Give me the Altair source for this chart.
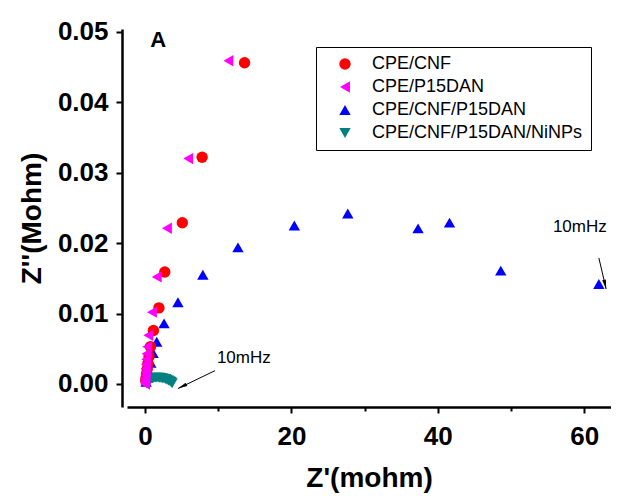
import altair as alt
import pandas as pd

# ---------------- data ----------------
series_names = ["CPE/CNF", "CPE/P15DAN", "CPE/CNF/P15DAN", "CPE/CNF/P15DAN/NiNPs"]
series_colors = ["#FF0000", "#FF00FF", "#0000FF", "#008080"]
series_shapes = ["circle", "triangle-left", "triangle-up", "triangle-down"]
draw_order = [1, 3, 0, 2]

cnf_x = [13.6, 7.8, 5.1, 2.7, 1.9, 1.15, 0.75, 0.55, 0.4, 0.3, 0.2, 0.15, 0.1]
cnf_y = [0.0456, 0.0322, 0.0229, 0.0159, 0.0108, 0.0076, 0.0053, 0.0039, 0.0029, 0.0021, 0.0014, 0.0009, 0.0005]

p15_x = [11.4, 5.9, 3.0, 1.6, 0.95, 0.45, 0.3, 0.22, 0.16, 0.12, 0.09, 0.07, 0.05, 0.04, 0.03, 0.02, 0.02, 0.01]
p15_y = [0.0459, 0.0320, 0.0221, 0.0152, 0.0102, 0.0069, 0.0053, 0.0043, 0.0035, 0.0028, 0.0022, 0.0017, 0.0013, 0.0009, 0.0006, 0.0004, 0.0002, 0.0000]

cnfp_x = [62.0, 48.6, 41.6, 37.3, 27.7, 20.4, 12.7, 7.9, 4.5, 2.6, 1.6, 1.1, 0.8, 0.5, 0.3, 0.15]
cnfp_y = [0.0142, 0.0161, 0.0229, 0.0221, 0.0242, 0.0225, 0.0194, 0.0155, 0.0116, 0.0086, 0.0060, 0.0044, 0.0030, 0.0018, 0.0009, 0.0003]

ni_x = [0.2, 0.35, 0.5, 0.65, 0.8, 1.0, 1.2, 1.4, 1.6, 1.8, 2.0, 2.2, 2.4, 2.6, 2.8, 3.0, 3.2, 3.4, 3.55, 3.7]
ni_y = [0.0001, 0.0003, 0.0005, 0.0006, 0.0007, 0.0008, 0.00085, 0.0009, 0.0009, 0.0009, 0.00088, 0.00085, 0.0008, 0.00075, 0.0007, 0.0006, 0.0005, 0.0004, 0.0003, 0.0001]

x_ticks = [0, 10, 20, 30, 40, 50, 60]
y_ticks = [0.0, 0.005, 0.01, 0.015, 0.02, 0.025, 0.03, 0.035, 0.04, 0.045, 0.05]

# annotations (data units)
panel_label = ["A"]
panel_x = [1.8]
panel_y = [0.0488]

note_text = ["10mHz", "10mHz"]
note_x = [59.4, 13.5]
note_y = [0.0223, 0.00366]

arrow_x = [62.0, 9.56]
arrow_y = [0.0179, 0.00189]
arrow_x2 = [63.0, 4.5]
arrow_y2 = [0.01347, -0.00065]
arrow_angle = [167, 244]

# ---------------- tables ----------------
rows = []
for name, xs, ys, o in zip(series_names,
                           [cnf_x, p15_x, cnfp_x, ni_x],
                           [cnf_y, p15_y, cnfp_y, ni_y],
                           draw_order):
    for xv, yv in zip(xs, ys):
        rows.append({"series": name, "x": xv, "y": yv, "o": o})
pts = pd.DataFrame(rows)

panel = pd.DataFrame({"t": panel_label, "x": panel_x, "y": panel_y})
notes = pd.DataFrame({"t": note_text, "x": note_x, "y": note_y})
arrows = pd.DataFrame({"x": arrow_x, "y": arrow_y, "x2": arrow_x2,
                       "y2": arrow_y2, "a": arrow_angle})

FONT = "Liberation Sans"

xscale = alt.Scale(domain=[-2.46, 63.66], nice=False, zero=False)
yscale = alt.Scale(domain=[-0.00327, 0.0504], nice=False, zero=False)

xaxis = alt.Axis(
    values=x_ticks, title="Z'(mohm)", grid=False,
    labelExpr="datum.value % 20 === 0 ? datum.label : ''",
    tickSize={"condition": {"test": "datum.value % 20 === 0", "value": 6}, "value": 4},
    labelFont=FONT, labelFontSize=26, labelFontWeight="bold", labelColor="black",
    titleFont=FONT, titleFontSize=28, titleFontWeight="bold", titleColor="black",
    labelPadding=10, titlePadding=15,
    domainColor="black", domainWidth=2.5, tickColor="black", tickWidth=2,
    labelFlush=False, labelOverlap=False,
)
yaxis = alt.Axis(
    values=y_ticks, title="Z''(Mohm)", grid=False, offset=5,
    labelExpr="round(datum.value*200) % 2 === 0 ? format(datum.value, '.2f') : ''",
    tickSize={"condition": {"test": "round(datum.value*200) % 2 === 0", "value": 6}, "value": 4},
    labelFont=FONT, labelFontSize=26, labelFontWeight="bold", labelColor="black",
    titleFont=FONT, titleFontSize=28, titleFontWeight="bold", titleColor="black",
    labelPadding=8, titlePadding=11,
    domainColor="black", domainWidth=2.5, tickColor="black", tickWidth=2,
    labelFlush=False, labelOverlap=False,
)

points = alt.Chart(pts).mark_point(filled=True, opacity=1, size=130, strokeWidth=0).encode(
    x=alt.X("x:Q", scale=xscale, axis=xaxis),
    y=alt.Y("y:Q", scale=yscale, axis=yaxis),
    color=alt.Color("series:N",
                    scale=alt.Scale(domain=series_names, range=series_colors),
                    sort=series_names,
                    legend=alt.Legend(title=None, orient="none", legendX=189, legendY=18,
                                      strokeColor="black", fillColor="white",
                                      padding=8, symbolOffset=12, labelOffset=18,
                                      labelFont=FONT, labelFontSize=18, labelColor="black",
                                      labelLimit=0,
                                      symbolSize=130, symbolStrokeWidth=0, rowPadding=5)),
    shape=alt.Shape("series:N",
                    scale=alt.Scale(domain=series_names, range=series_shapes),
                    sort=series_names),
    order=alt.Order("o:Q"),
)

rules = alt.Chart(arrows).mark_rule(color="black", strokeWidth=1).encode(
    x="x:Q", y="y:Q", x2="x2:Q", y2="y2:Q")

heads = alt.Chart(arrows).mark_point(
    shape="M0,0L-0.4,2L0.4,2Z", filled=True, color="black", opacity=1,
    size=90, strokeWidth=0).encode(
    x="x2:Q", y="y2:Q", angle=alt.Angle("a:Q", scale=None))

panel_text = alt.Chart(panel).mark_text(font=FONT, color="black", fontSize=22, fontWeight="bold",
                                        baseline="middle", align="center").encode(
    x="x:Q", y="y:Q", text="t:N")

note_texts = alt.Chart(notes).mark_text(font=FONT, color="black", fontSize=17,
                                        baseline="middle", align="center").encode(
    x="x:Q", y="y:Q", text="t:N")

chart = alt.layer(points, rules, heads, panel_text, note_texts).properties(
    width=484, height=378,
    autosize=alt.AutoSizeParams(type="none"),
    padding={"left": 119, "top": 21, "right": 0, "bottom": 88},
    background="white",
).configure_view(stroke=None)

chart.save("out.html", embed_options={"renderer": "svg", "actions": False})
